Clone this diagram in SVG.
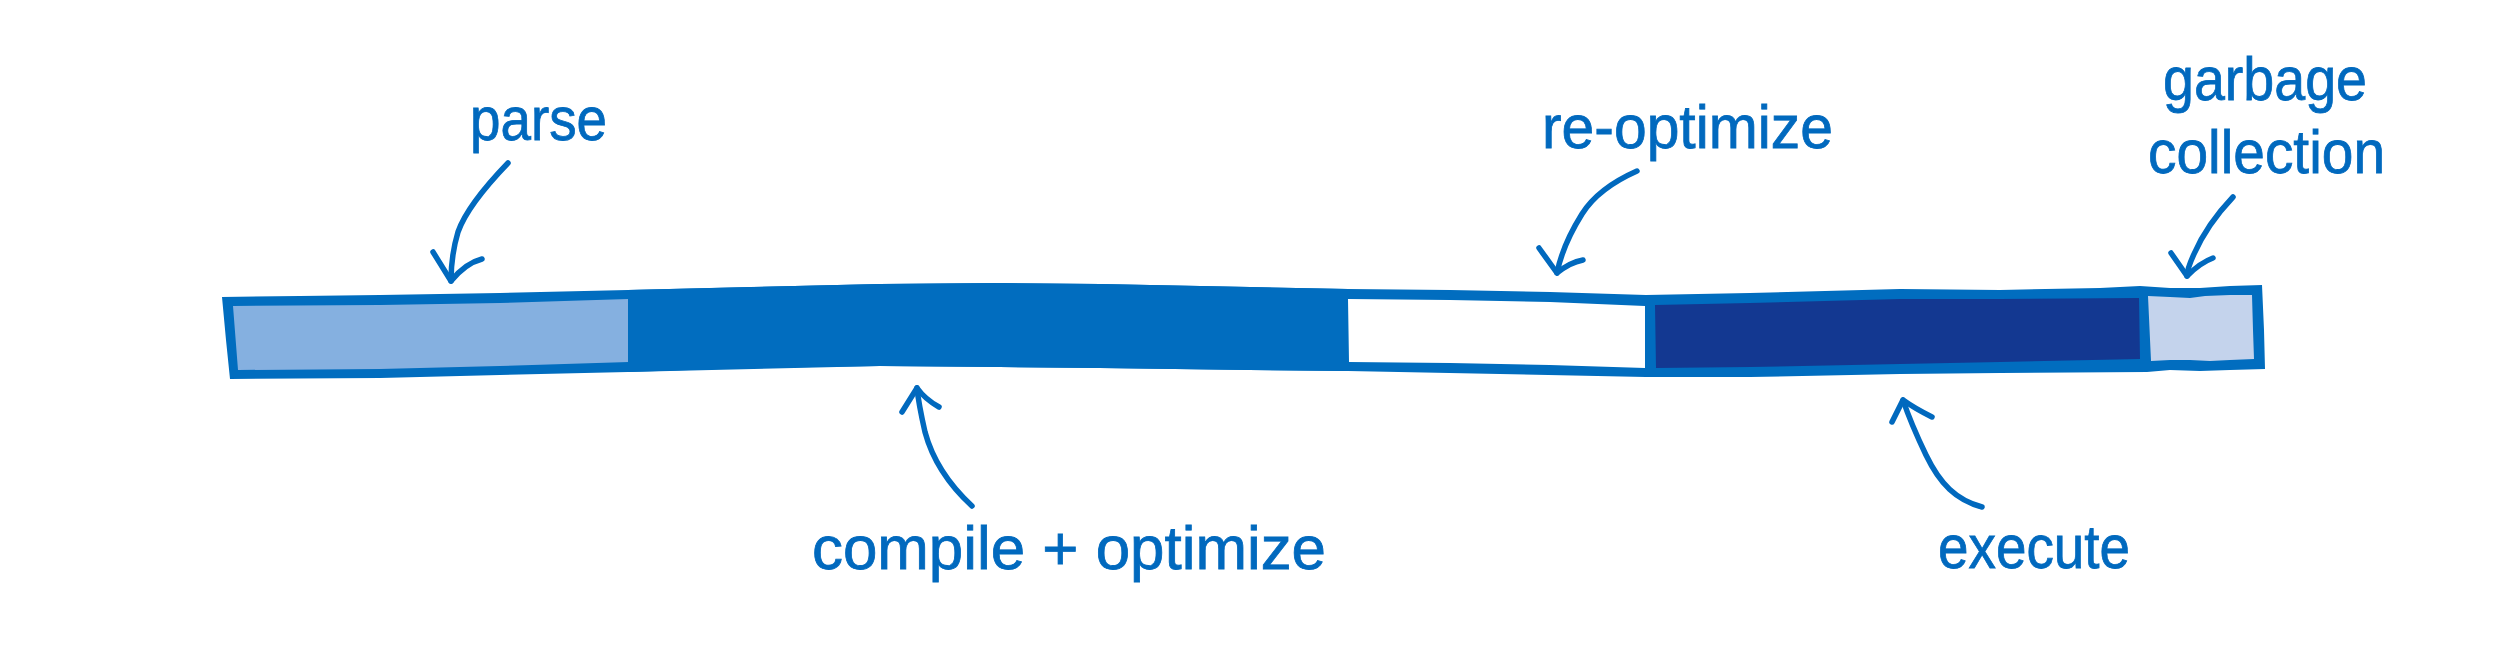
<svg xmlns="http://www.w3.org/2000/svg" width="2500" height="645" viewBox="0 0 2500 645">
  <style>
    .lbl { font-family: "Liberation Sans", "Noto Sans", sans-serif; font-size: 62px; fill: #0169be; stroke: #0169be; stroke-width: 0.8; }
    .arr { fill: none; stroke: #0169be; stroke-width: 5.5; stroke-linecap: round; stroke-linejoin: round; }
  </style>
  <rect width="2500" height="645" fill="#ffffff"/>

  <g id="bar">
    <path d="M222,297 L300,296 L380,295 L500,293 L628,290 L750,287 L880,284 L1000,283 L1100,284 L1250,287 L1348,289 L1450,290 L1550,292 L1646,295 L1750,293 L1900,289 L2000,290 L2100,288 L2140,286 L2170,288 L2200,288 L2230,286 L2262,285 L2264,330 L2265,369 L2230,370 L2200,371 L2170,370 L2147,372 L2000,373 L1900,374 L1750,377 L1646,377 L1500,374 L1348,371 L1250,370 L1100,368 L1000,367 L880,366 L750,368 L628,372 L500,375 L380,378 L230,379 L226,340 Z" fill="#016dbf"/>
  </g>

  <g id="parse-segment">
    <path d="M233,306 L380,305 L500,303 L628,299 L629,362 L500,366 L380,369 L238,370 Z" fill="#85b0e0"/>
  </g>
  <g id="compile-segment">
    <path d="M628,290 L880,284 L1000,283 L1100,284 L1250,287 L1348,289 L1348,371 L1250,370 L1100,368 L1000,367 L880,366 L628,372 Z" fill="#016dbf"/>
  </g>
  <g id="reoptimize-segment">
    <path d="M1348,299 L1450,300 L1550,302 L1645,306 L1645,368 L1550,365 L1450,363 L1349,362 Z" fill="#ffffff"/>
  </g>
  <g id="execute-segment">
    <path d="M1655,305 L1750,303 L1900,299 L2000,299 L2139,298 L2140,359 L2000,362 L1900,364 L1750,367 L1656,368 Z" fill="#133891"/>
  </g>
  <g id="gc-segment">
    <path d="M2148,296 L2170,297 L2190,298 L2205,296 L2230,295 L2252,295 L2253,330 L2254,359 L2230,360 L2210,361 L2190,360 L2170,360 L2151,361 Z" fill="#c4d3ec"/>
  </g>

  <g id="label-parse"><text class="lbl" x="470" y="140" textLength="137" lengthAdjust="spacingAndGlyphs">parse</text></g>
  <g id="label-reoptimize"><text class="lbl" x="1542" y="148" textLength="291" lengthAdjust="spacingAndGlyphs">re-optimize</text></g>
  <g id="label-gc">
    <text class="lbl" x="2163" y="100" textLength="204" lengthAdjust="spacingAndGlyphs">garbage</text>
    <text class="lbl" x="2148" y="173" textLength="237" lengthAdjust="spacingAndGlyphs">collection</text>
  </g>
  <g id="label-compile"><text class="lbl" x="812" y="569" textLength="514" lengthAdjust="spacingAndGlyphs">compile + optimize</text></g>
  <g id="label-execute"><text class="lbl" x="1938" y="568" textLength="192" lengthAdjust="spacingAndGlyphs">execute</text></g>

  <g id="connectors">
    <path class="arr" d="M508,163 C482,190 465,212 458,232 C452,252 451,268 451,281"/>
    <path class="arr" d="M433,252 L451,281 M482,259 C470,262 460,270 451,281"/>

    <path class="arr" d="M1637,171 C1610,183 1592,198 1582,214 C1567,238 1560,258 1557,273"/>
    <path class="arr" d="M1539,248 L1557,273 M1583,260 C1572,262 1563,268 1557,273"/>

    <path class="arr" d="M2233,197 C2215,216 2201,238 2194,254 C2189,265 2187,272 2187,276"/>
    <path class="arr" d="M2171,253 L2187,276 M2213,258 C2202,262 2193,270 2187,276"/>

    <path class="arr" d="M972,506 C946,482 932,458 925,432 C920,410 918,398 917,388"/>
    <path class="arr" d="M902,412 L917,388 M939,407 C930,402 922,395 917,388"/>

    <path class="arr" d="M1982,507 C1956,500 1940,484 1926,455 C1914,430 1907,412 1903,400"/>
    <path class="arr" d="M1892,422 L1903,400 M1932,417 C1922,412 1910,405 1903,400"/>
  </g>
</svg>
